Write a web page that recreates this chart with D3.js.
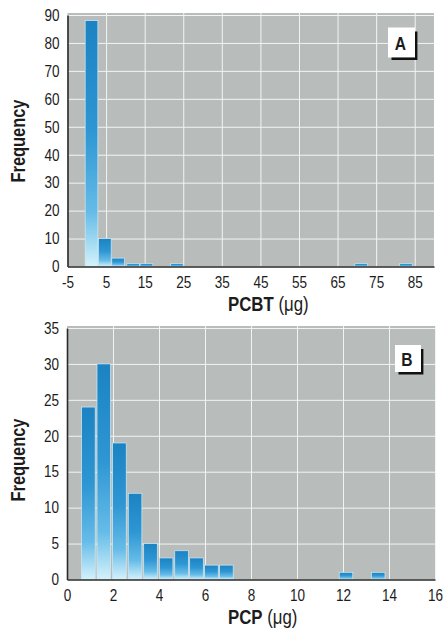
<!DOCTYPE html>
<html>
<head>
<meta charset="utf-8">
<script src="https://cdn.jsdelivr.net/npm/d3@7"></script>
<style>
  body { margin: 0; background: #fff; }
  svg { display: block; }
  text { font-family: "Liberation Sans", Arial, sans-serif; fill: #1c1c1c; }
</style>
</head>
<body>
<div class="vis-histograms"></div>
<script>
// panel A: PCBT (ug)
const pcbtBinStart = [-0.5, 2.95, 6.4, 10.3, 13.75, 21.6, 69.4, 81.0];
const pcbtBinWidth = 3.45;
const pcbtCounts = [88, 10, 3, 1, 1, 1, 1, 1];
const pcbtXTicks = [-5, 5, 15, 25, 35, 45, 55, 65, 75, 85];
const pcbtYTicks = [0, 10, 20, 30, 40, 50, 60, 70, 80, 90];

// panel B: PCP (ug)
const pcpBinStart = [0.6, 1.27, 1.95, 2.63, 3.3, 3.98, 4.65, 5.3, 5.95, 6.6, 11.8, 13.2];
const pcpBinWidth = 0.66;
const pcpCounts = [24, 30, 19, 12, 5, 3, 4, 3, 2, 2, 1, 1];
const pcpXTicks = [0, 2, 4, 6, 8, 10, 12, 14, 16];
const pcpYTicks = [0, 5, 10, 15, 20, 25, 30, 35];

const svg = d3.select('.vis-histograms')
    .append('svg')
    .attr('width', 445)
    .attr('height', 628);

// the original uses a condensed face, so squeeze Liberation Sans a bit
const squeeze = 0.82;
const narrow = function () {
    const w = this.getComputedTextLength();
    d3.select(this).attr('textLength', w * squeeze).attr('lengthAdjust', 'spacingAndGlyphs');
};

// bar fill: dark blue on top fading to pale cyan at the base
const grad = svg.append('defs').append('linearGradient')
    .attr('id', 'barGrad')
    .attr('x1', 0).attr('y1', 0).attr('x2', 0).attr('y2', 1);
[[0, '#1c83c3'], [0.45, '#2e96d3'], [0.78, '#66bce8'], [1, '#d4f2fb']].forEach(s => {
    grad.append('stop').attr('offset', s[0]).attr('stop-color', s[1]);
});

const drawPanel = (p) => {
    const x = d3.scaleLinear().domain([p.xTicks[0], p.xMax]).range([p.left, p.right]);
    const y = d3.scaleLinear().domain([0, p.yTicks[p.yTicks.length - 1]]).range([p.bottom, p.top]);
    const g = svg.append('g');

    g.append('rect')
        .attr('x', p.left)
        .attr('y', p.top - 2)
        .attr('width', p.right - p.left)
        .attr('height', p.bottom - p.top + 2)
        .attr('fill', '#b8bdbb');

    // white grid
    g.append('g')
        .attr('transform', 'translate(0,' + p.bottom + ')')
        .call(d3.axisBottom(x).tickValues(p.xTicks.slice(1)).tickSize(-(p.bottom - p.top + 2)).tickFormat(''))
        .call(a => a.select('.domain').remove())
        .selectAll('line').attr('stroke', '#f2f4f4').attr('stroke-width', 1);
    g.append('g')
        .attr('transform', 'translate(' + p.left + ',0)')
        .call(d3.axisLeft(y).tickValues(p.yTicks.slice(1)).tickSize(-(p.right - p.left)).tickFormat(''))
        .call(a => a.select('.domain').remove())
        .selectAll('line').attr('stroke', '#f2f4f4').attr('stroke-width', 1);

    const bins = p.starts.map((s, i) => ({ x0: s, x1: s + p.binWidth, n: p.counts[i] }));
    g.selectAll('.bar')
        .data(bins)
        .enter().append('rect')
        .attr('class', 'bar')
        .attr('x', d => x(d.x0) + p.gap)
        .attr('width', d => x(d.x1) - x(d.x0) - 2 * p.gap)
        .attr('y', d => y(d.n))
        .attr('height', d => y(0) - y(d.n))
        .attr('fill', 'url(#barGrad)')
        .attr('stroke', '#cfeaf5')
        .attr('stroke-width', 0.7);

    const xAxis = g.append('g')
        .attr('transform', 'translate(0,' + p.bottom + ')')
        .call(d3.axisBottom(x).tickValues(p.xTicks).tickFormat(d => String(d)).tickSize(0).tickPadding(9.5));
    xAxis.attr('font-size', 16.5);
    xAxis.select('.domain').attr('stroke', '#2a2a2a').attr('stroke-width', 1.6);
    xAxis.selectAll('text').each(narrow);

    const yAxis = g.append('g')
        .attr('transform', 'translate(' + p.left + ',0)')
        .call(d3.axisLeft(y).tickValues(p.yTicks).tickSize(0).tickPadding(8));
    yAxis.attr('font-size', 16.5);
    yAxis.select('.domain').attr('stroke', '#2a2a2a').attr('stroke-width', 1.6);
    yAxis.selectAll('text').each(narrow);

    // axis title: bold name, then the unit in regular weight (squeezed by a scale)
    const title = g.append('text')
        .attr('transform', 'translate(' + p.titleX + ',' + p.titleY + ') scale(' + squeeze + ',1)')
        .attr('font-size', 20.5);
    title.append('tspan').attr('font-weight', 'bold').text(p.title);
    title.append('tspan').text(' (\u03bcg)');

    g.append('text')
        .attr('transform', 'translate(25,' + p.yLabelY + ') rotate(-90)')
        .attr('text-anchor', 'middle')
        .attr('font-weight', 'bold')
        .attr('font-size', 20)
        .text('Frequency')
        .each(narrow);

    // panel letter with its black corner
    const b = p.box;
    g.append('rect')
        .attr('x', b[0]).attr('y', b[1])
        .attr('width', b[2]).attr('height', b[3])
        .attr('fill', '#fff');
    g.append('path')
        .attr('d', 'M' + (b[0] + 3.5) + ',' + (b[1] + b[3] + 1.2) + 'H' + (b[0] + b[2] + 1.2) + 'V' + (b[1] + 4))
        .attr('fill', 'none')
        .attr('stroke', '#111')
        .attr('stroke-width', 2.4);
    g.append('text')
        .attr('x', b[0] + b[2] / 2 - 1)
        .attr('y', b[1] + b[3] * 0.76)
        .attr('text-anchor', 'middle')
        .attr('font-weight', 'bold')
        .attr('font-size', 19)
        .text(p.letter)
        .each(narrow);
};

drawPanel({
    starts: pcbtBinStart, binWidth: pcbtBinWidth, counts: pcbtCounts,
    xTicks: pcbtXTicks, yTicks: pcbtYTicks, xMax: 90,
    left: 67.5, right: 434, top: 15, bottom: 266.5, gap: 0.3,
    title: 'PCBT', titleX: 228, titleY: 311, yLabelY: 141,
    letter: 'A', box: [388, 27.5, 27, 30]
});

drawPanel({
    starts: pcpBinStart, binWidth: pcpBinWidth, counts: pcpCounts,
    xTicks: pcpXTicks, yTicks: pcpYTicks, xMax: 16,
    left: 67, right: 435, top: 328, bottom: 579.5, gap: 0.8,
    title: 'PCP', titleX: 228, titleY: 624, yLabelY: 460,
    letter: 'B', box: [395, 345, 26, 27]
});
</script>
</body>
</html>
